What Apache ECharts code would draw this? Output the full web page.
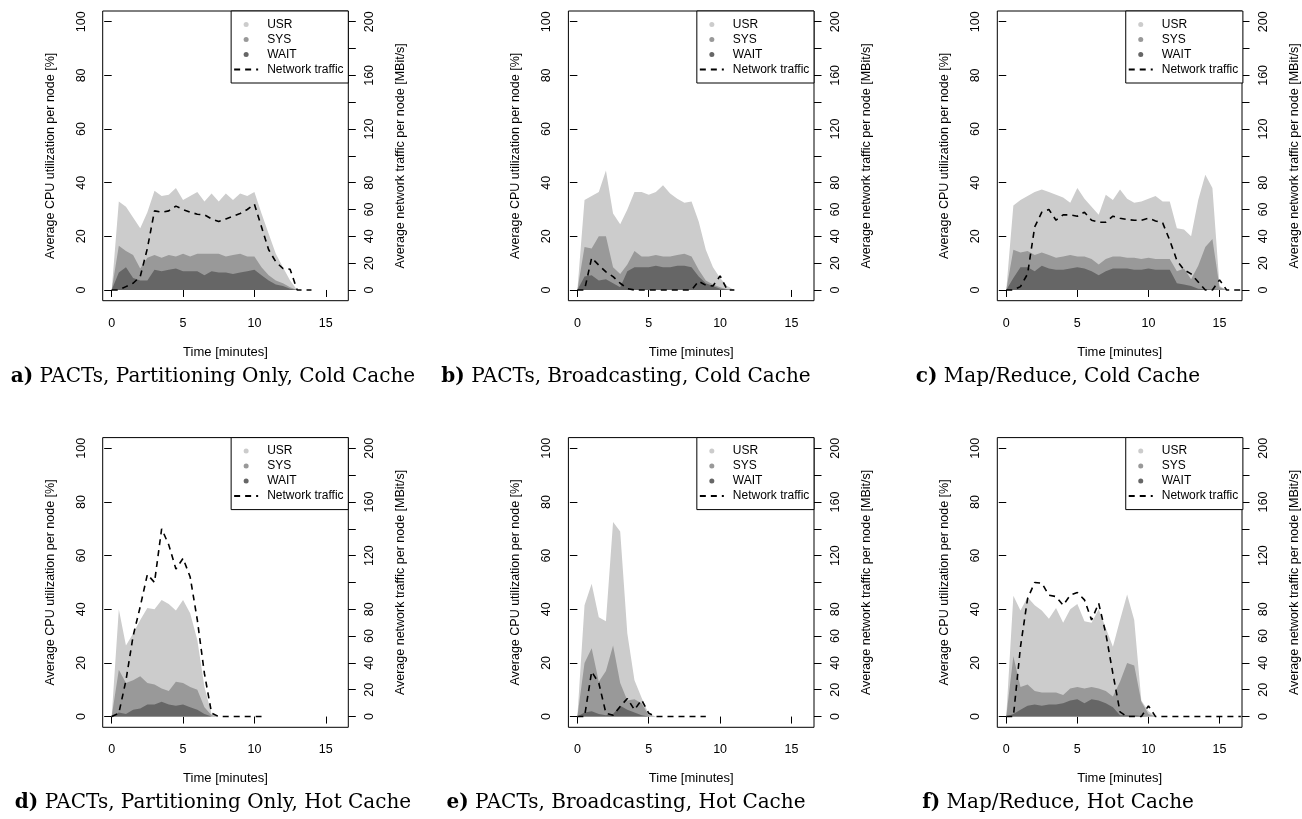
<!doctype html>
<html>
<head>
<meta charset="utf-8">
<script src="https://cdn.jsdelivr.net/npm/echarts@6/dist/echarts.min.js"></script>
<title>CPU utilization and network traffic</title>
<style>
	html, body { margin: 0; padding: 0; background: #fff; }
	#chart { width: 1302px; height: 819px; }
</style>
</head>
<body>
<div id="chart"></div>
<script>

// sample times, one every 30 seconds
var minutes = [0, 0.5, 1, 1.5, 2, 2.5, 3, 3.5, 4, 4.5, 5, 5.5, 6, 6.5, 7, 7.5, 8, 8.5,
	9, 9.5, 10, 10.5, 11, 11.5, 12, 12.5, 13, 13.5, 14, 14.5, 15, 15.5, 16, 16.5]

var xTicks = [0, 5, 10, 15]
var cpuTicks = [0, 20, 40, 60, 80, 100]
var netTicks = [0, 20, 40, 60, 80, 100, 120, 140, 160, 180, 200]
var netLabels = [0, 20, 40, 60, 80, 120, 160, 200]

var seriesNames = ['USR', 'SYS', 'WAIT', 'Network traffic']
var grays = ['#cccccc', '#999999', '#666666']

// a) PACTs, Partitioning Only, Cold Cache
var usrA = [0, 33, 31, 27, 23, 29, 37, 35, 35.5, 38, 33.5, 35, 36.5, 33, 36, 33, 36, 33.5, 36, 35, 36.5, 28.5, 21, 13.5, 8.5, 3.5, 0]
var sysA = [0, 16.5, 14.5, 13, 8, 12, 13, 12, 13, 12.5, 13.5, 12.5, 13.5, 13.5, 13.5, 13.5, 12.5, 13, 13.5, 12.5, 12.5, 8.5, 5.5, 3.5, 2.5, 1, 0]
var waitA = [0, 6.5, 8.5, 4.5, 3.5, 3.5, 7.5, 7, 7.5, 8, 7, 7, 7, 5.5, 7, 6.5, 6.5, 6, 6.5, 7, 7.5, 5.5, 3.5, 2, 1.5, 0.5, 0]
var netA = [0, 0, 2.5, 5, 10, 31, 59, 58, 59, 62.5, 60, 58, 56.5, 56, 53, 51, 53, 55, 57, 60, 64, 47, 30, 21, 16, 15.5, 0, 0, 0]

// b) PACTs, Broadcasting, Cold Cache
var usrB = [0, 33.5, 35, 36.5, 44.5, 28.5, 24.5, 30, 36.5, 36.5, 35.5, 36.5, 39, 36, 34, 32.5, 33, 25.5, 15, 8.5, 4.5, 1.5, 0]
var sysB = [0, 16, 15.5, 20, 20, 8.5, 6, 9.5, 14.5, 12.5, 12.5, 13, 12.5, 12.5, 13, 13.5, 12.5, 7.5, 3.5, 2, 1, 0.3, 0]
var waitB = [0, 5, 5.5, 3.5, 4, 2.5, 1, 7, 8.5, 8.5, 8.5, 9, 8.5, 8.5, 9, 9, 8.5, 5, 2.5, 1.5, 0.5, 0.2, 0]
var netB = [0, 0, 24, 18.5, 13.5, 10, 5, 1, 0, 0, 0, 0, 0, 0, 0, 0, 0, 6.5, 3.5, 3, 10.5, 0, 0]

// c) Map/Reduce, Cold Cache
var usrC = [0, 31.5, 33.5, 35, 36.5, 37.5, 36.5, 35.5, 34.5, 32.5, 38, 34, 31, 28, 35.5, 33.5, 37.5, 34, 32.5, 33, 34, 35, 33, 33, 23, 22.5, 20, 33.5, 43, 38, 1.5, 0]
var sysC = [0, 15, 14, 14.5, 13, 14, 13, 12, 12.5, 13, 12.5, 12.5, 11.5, 9.5, 11.5, 12.5, 12.5, 12, 12, 11.5, 12, 11.5, 11.5, 11.5, 7, 8, 4, 9, 16, 19, 1, 0]
var waitC = [0, 4.5, 8.5, 8.5, 7, 9, 8, 7.5, 7.5, 8, 8.5, 8, 7, 5.5, 7, 8, 8, 8, 7.5, 7.5, 8, 7.5, 7.5, 7.5, 2.5, 2, 1.5, 0.5, 0.3, 0.2, 0, 0]
var netC = [0, 0, 2.5, 12, 47, 58, 60, 52, 56, 56, 55, 58, 52, 50.5, 50.5, 55, 53.5, 52.5, 52, 52, 53.5, 51.5, 50, 37, 22, 15, 12, 6, 0, 0, 7.5, 0, 0, 0]

// d) PACTs, Partitioning Only, Hot Cache
var usrD = [0, 40, 26.5, 31, 36, 40.5, 40, 43.5, 42, 39.5, 43.5, 38.5, 28.5, 11, 1, 0]
var sysD = [0, 17.5, 12.5, 13.5, 15, 12.5, 12, 10.5, 9.5, 13, 12.5, 11, 10, 3.5, 0.5, 0]
var waitD = [0, 1.5, 1, 2.5, 3, 4.5, 4.5, 5.5, 4.5, 4, 4.5, 3.5, 2.5, 1, 0, 0]
var netD = [0, 2.5, 27, 60, 82, 106, 100, 140, 128, 110, 118, 104, 72, 32, 2.5, 0, 0, 0, 0, 0, 0, 0]

// e) PACTs, Broadcasting, Hot Cache
var usrE = [0, 41.5, 49.5, 37, 35.5, 72.5, 69, 31, 13.5, 7, 1, 0]
var sysE = [0, 20, 25.5, 13, 17, 26.5, 12.5, 6, 6.5, 5, 0.5, 0]
var waitE = [0, 1.5, 2, 1, 0.5, 1, 4, 2.5, 1.5, 0.5, 0, 0]
var netE = [0, 0, 33.5, 25, 2.5, 1, 7.5, 13.5, 5, 12.5, 2.5, 0, 0, 0, 0, 0, 0, 0, 0]

// f) Map/Reduce, Hot Cache
var usrF = [0, 45, 39.5, 44.5, 41.5, 39.5, 36.5, 40.5, 35, 40, 42, 35.5, 35, 40, 33, 26, 36, 45.5, 36, 6, 2, 0]
var sysF = [0, 22.5, 11, 12, 9.5, 9, 9, 9, 8, 10.5, 11, 10.5, 11, 10.5, 9.5, 7.5, 13, 20, 19, 5.5, 1, 0]
var waitF = [0, 1, 2.5, 4, 4.5, 4, 4.5, 4.5, 5, 6, 6.5, 5, 6.5, 6, 5, 3.5, 0.5, 0.5, 0.5, 0.2, 0, 0]
var netF = [0, 0, 52, 88, 100, 99.5, 90.5, 89.5, 83, 90.5, 92.5, 87, 72, 84.5, 62, 32, 3.5, 0, 0, 0, 8, 0, 0, 0, 0, 0, 0, 0, 0, 0, 0, 0, 0, 0]

var panels = [
	{ tag: 'a)', caption: ' PACTs, Partitioning Only, Cold Cache', cpu: [usrA, sysA, waitA], net: netA },
	{ tag: 'b)', caption: ' PACTs, Broadcasting, Cold Cache', cpu: [usrB, sysB, waitB], net: netB },
	{ tag: 'c)', caption: ' Map/Reduce, Cold Cache', cpu: [usrC, sysC, waitC], net: netC },
	{ tag: 'd)', caption: ' PACTs, Partitioning Only, Hot Cache', cpu: [usrD, sysD, waitD], net: netD },
	{ tag: 'e)', caption: ' PACTs, Broadcasting, Hot Cache', cpu: [usrE, sysE, waitE], net: netE },
	{ tag: 'f)', caption: ' Map/Reduce, Hot Cache', cpu: [usrF, sysF, waitF], net: netF }
]

// layout of the plot boxes
var colLeft = [102.7, 568.4, 997.3]
var rowTop = [11, 437.6]
var boxW = 245.6
var boxH = 289.7
var captionX = [213, 626, 1058]
var captionY = [377, 803]
var chartW = 1302

var sans = 'Liberation Sans'

function pairs(values) {
	return values.map((v, i) => [minutes[i], v])
}

var grids = []
var xAxes = []
var yAxes = []
var series = []
var legends = []
var graphics = []

panels.forEach((p, i) => {
	let col = i % 3
	let row = Math.floor(i / 3)

	grids.push({
		left: colLeft[col], top: rowTop[row], width: boxW, height: boxH,
		show: true, borderColor: '#000', borderWidth: 1, backgroundColor: 'transparent'
	})

	xAxes.push({
		gridIndex: i, type: 'value', min: -0.63, max: 16.58,
		name: 'Time [minutes]', nameLocation: 'middle', nameGap: 45,
		nameTextStyle: { fontFamily: sans, fontSize: 13, color: '#000' },
		axisLine: { show: false },
		splitLine: { show: false },
		axisTick: { length: 7, lineStyle: { color: '#000' }, customValues: xTicks },
		axisLabel: { customValues: xTicks, margin: 16, fontFamily: sans, fontSize: 12.5, color: '#000' }
	})

	yAxes.push({
		gridIndex: i, type: 'value', position: 'left', min: -4, max: 104,
		name: 'Average CPU utilization per node [%]', nameLocation: 'middle', nameGap: 46,
		nameTextStyle: { fontFamily: sans, fontSize: 12.5, color: '#000' },
		axisLine: { show: false },
		splitLine: { show: false },
		axisTick: { length: 7.5, lineStyle: { color: '#000' }, customValues: cpuTicks },
		axisLabel: { customValues: cpuTicks, rotate: 90, margin: 15, fontFamily: sans, fontSize: 12.5, color: '#000' }
	})

	yAxes.push({
		gridIndex: i, type: 'value', position: 'right', min: -8, max: 208,
		name: 'Average network traffic per node [MBit/s]', nameLocation: 'middle', nameGap: 46,
		nameTextStyle: { fontFamily: sans, fontSize: 12.5, color: '#000' },
		axisLine: { show: false },
		splitLine: { show: false },
		axisTick: { length: 7.5, lineStyle: { color: '#000' }, customValues: netTicks },
		axisLabel: { customValues: netLabels, rotate: 90, margin: 15, fontFamily: sans, fontSize: 12.5, color: '#000' }
	})

	p.cpu.forEach((values, k) => {
		series.push({
			name: seriesNames[k],
			type: 'line',
			xAxisIndex: i,
			yAxisIndex: 2 * i,
			data: pairs(values),
			symbol: 'none',
			color: grays[k],
			lineStyle: { width: 0, opacity: 0 },
			areaStyle: { color: grays[k], opacity: 1 },
			silent: true
		})
	})

	series.push({
		name: seriesNames[3],
		type: 'line',
		xAxisIndex: i,
		yAxisIndex: 2 * i + 1,
		data: pairs(p.net),
		symbol: 'none',
		itemStyle: { color: 'rgba(0,0,0,0)' },
		lineStyle: { color: '#000', width: 1.6, type: [6, 5] },
		silent: true,
		z: 5
	})

	legends.push({
		orient: 'vertical',
		right: chartW - (colLeft[col] + boxW),
		top: rowTop[row],
		padding: [7.5, 4.7, 7.5, 2],
		itemGap: 3,
		itemWidth: 24,
		itemHeight: 5,
		selectedMode: false,
		backgroundColor: '#fff',
		borderColor: '#000',
		borderWidth: 1,
		textStyle: { fontFamily: sans, fontSize: 12, color: '#000', lineHeight: 12, padding: [0, 0, 0, 4] },
		data: [
			{ name: 'USR', icon: 'circle' },
			{ name: 'SYS', icon: 'circle' },
			{ name: 'WAIT', icon: 'circle' },
			{ name: 'Network traffic' }
		]
	})

	graphics.push({
		type: 'text',
		x: captionX[col],
		y: captionY[row],
		style: {
			text: '{b|' + p.tag + '}' + p.caption,
			rich: { b: { fontFamily: 'DejaVu Serif', fontSize: 20, fontWeight: 'bold', fill: '#000' } },
			fontFamily: 'DejaVu Serif',
			fontSize: 20,
			fill: '#000',
			align: 'center',
			verticalAlign: 'middle'
		}
	})
})

var chart = echarts.init(document.getElementById('chart'))

chart.setOption({
	animation: false,
	backgroundColor: '#fff',
	grid: grids,
	xAxis: xAxes,
	yAxis: yAxes,
	legend: legends,
	series: series,
	graphic: graphics
})

</script>
</body>
</html>
